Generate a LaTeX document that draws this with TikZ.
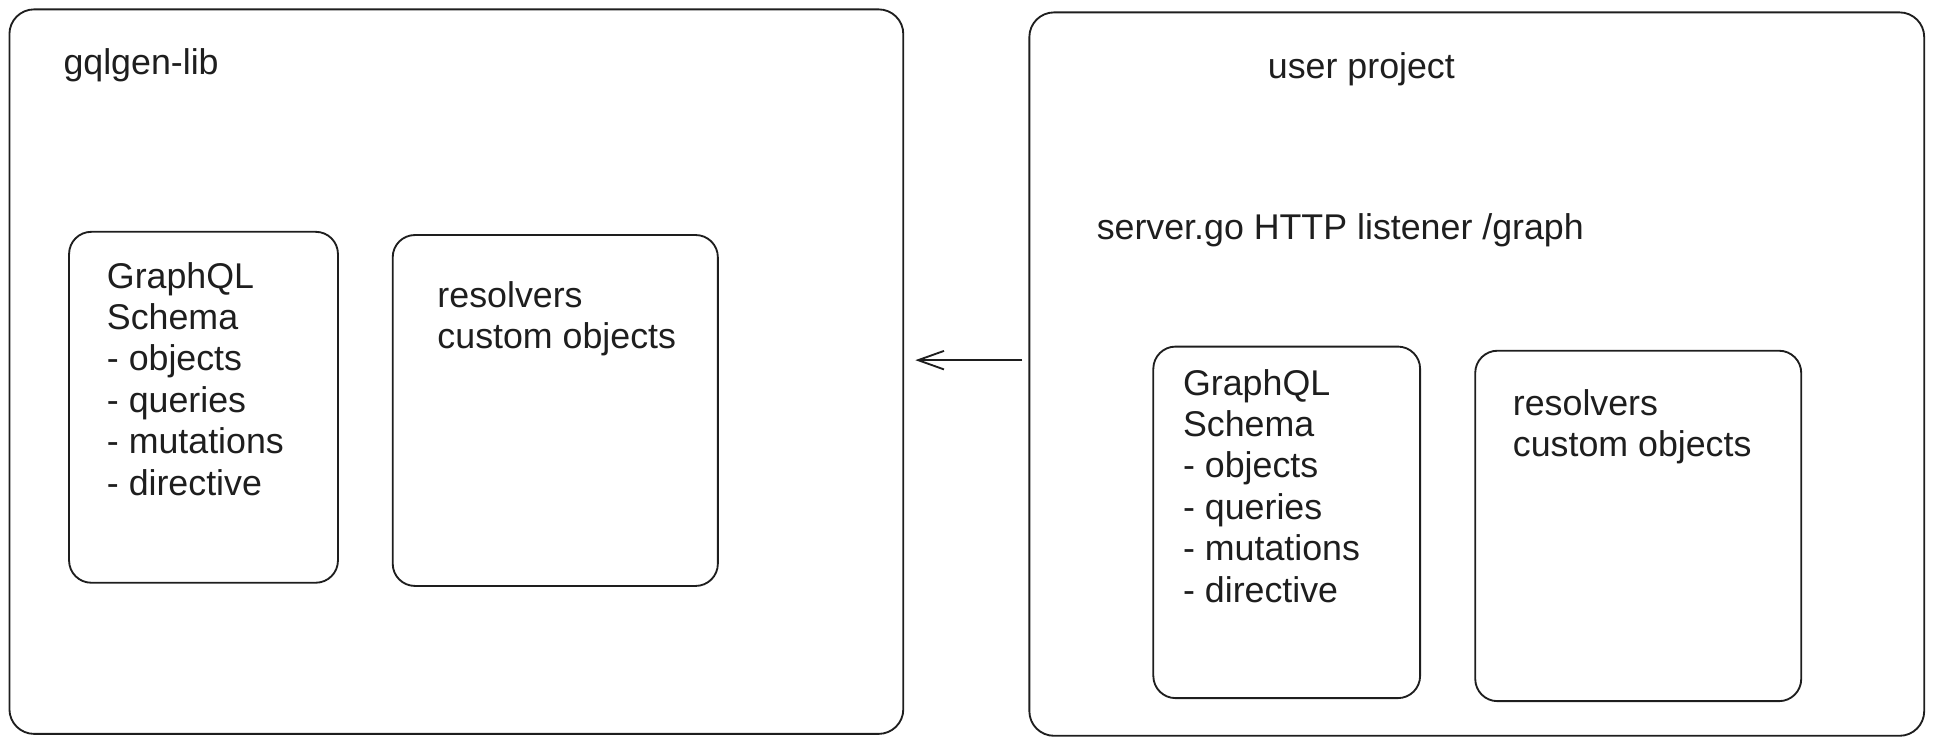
\documentclass[tikz,border=0pt]{standalone}
\usepackage{fontspec}
\setmainfont{Liberation Sans}
\usepackage{tikz}
\usetikzlibrary{arrows.meta,shapes}
\definecolor{ink}{HTML}{1E1E1E}
\tikzstyle{frame}=[draw=ink,line width=1.5pt,rounded corners=20pt,inner sep=0pt]
\tikzstyle{card}=[draw=ink,line width=1.5pt,rounded corners=18pt,inner sep=0pt]
\tikzstyle{label}=[anchor=base west,inner sep=0pt,text=ink,font=\fontsize{29}{33.6}\selectfont]
\tikzstyle{link}=[draw=ink,line width=1.5pt,-{Straight Barb[length=21pt,width=15pt,line width=1.5pt]}]

\begin{document}
\begin{tikzpicture}[x=1pt,y=-1pt]
    \useasboundingbox (0,0) rectangle (1568,605);
    % First the two outer frames
    \node[frame,minimum width=724.7pt,minimum height=587.4pt] (lib) at (370,301.3) {};
    \node[frame,minimum width=725.5pt,minimum height=586.5pt] (user) at (1197.3,303.3) {};
    % Then the cards inside them
    \node[card,minimum width=218pt,minimum height=284.5pt] (libschema) at (165,330.2) {};
    \node[card,minimum width=263.6pt,minimum height=284.5pt] (libres) at (450.2,332.8) {};
    \node[card,minimum width=216.3pt,minimum height=285pt] (userschema) at (1043.2,423.5) {};
    \node[card,minimum width=264.3pt,minimum height=284.1pt] (userres) at (1328.2,426.4) {};
    % Titles
    \node[label] (libtitle) at (51.3,60) {gqlgen-lib};
    \node[label] (usertitle) at (1027.8,63.5) {user project};
    \node[label] (server) at (889,193.8) {server.go HTTP listener /graph};
    % Card texts, one line at a time
    \foreach \txt [count=\i] in {GraphQL, Schema, - objects, - queries, - mutations, - directive}
    {
        \node[label] (libschema-\i) at (86.5,233.5+33.6*\i-33.6) {\txt};
        \node[label] (userschema-\i) at (959,320.3+33.6*\i-33.6) {\txt};
    }
    \foreach \txt [count=\i] in {resolvers, custom objects}
    {
        \node[label] (libres-\i) at (354.5,249.2+33.4*\i-33.4) {\txt};
        \node[label] (userres-\i) at (1226.4,336.5+33.4*\i-33.4) {\txt};
    }
    % Connect the frames
    \path[link,shorten <=5pt,shorten >=9pt] ([yshift=11.3pt]user.west) -- ([yshift=11.3pt]user.west -| lib.east);
\end{tikzpicture}
\end{document}
